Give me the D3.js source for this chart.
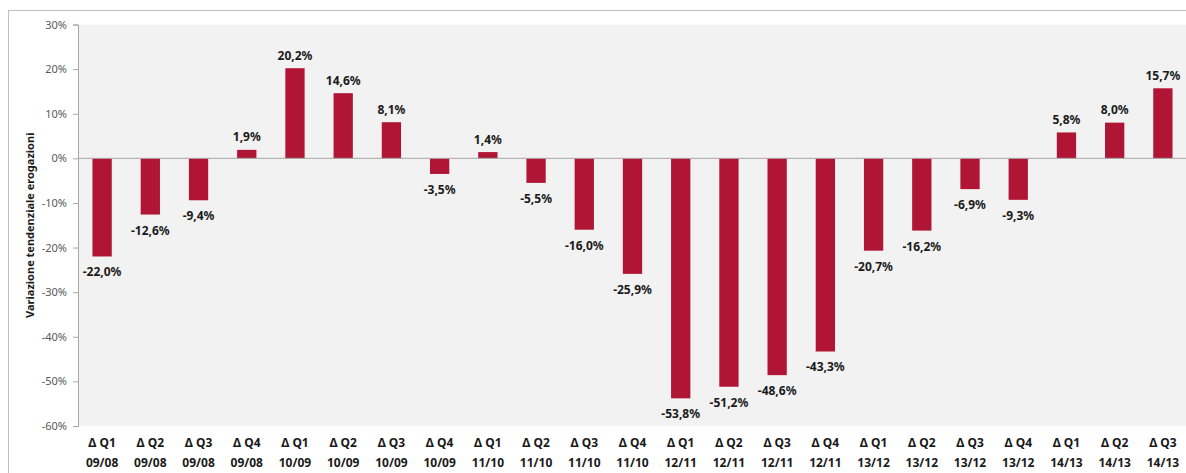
<!DOCTYPE html>
<html>
<head>
<meta charset="utf-8">
<script src="https://cdn.jsdelivr.net/npm/d3@7"></script>
<style>
  html, body { margin: 0; padding: 0; background: #ffffff; }
  svg { display: block; }
</style>
</head>
<body>
<svg id="chart" width="1186" height="473"></svg>
<script>
const quarters = ["Δ Q1","Δ Q2","Δ Q3","Δ Q4","Δ Q1","Δ Q2","Δ Q3","Δ Q4","Δ Q1","Δ Q2","Δ Q3","Δ Q4","Δ Q1","Δ Q2","Δ Q3","Δ Q4","Δ Q1","Δ Q2","Δ Q3","Δ Q4","Δ Q1","Δ Q2","Δ Q3"];
const periods = ["09/08","09/08","09/08","09/08","10/09","10/09","10/09","10/09","11/10","11/10","11/10","11/10","12/11","12/11","12/11","12/11","13/12","13/12","13/12","13/12","14/13","14/13","14/13"];
const values = [-22.0,-12.6,-9.4,1.9,20.2,14.6,8.1,-3.5,1.4,-5.5,-16.0,-25.9,-53.8,-51.2,-48.6,-43.3,-20.7,-16.2,-6.9,-9.3,5.8,8.0,15.7];
const yTicks = [30,20,10,0,-10,-20,-30,-40,-50,-60];
const yTitle = "Variazione tendenziale erogazioni";

const svg = d3.select("#chart");
const font = "'Noto Sans', 'DejaVu Sans', sans-serif";
const pLeft = 78, pRight = 1187, pTop = 24.5, pBottom = 426;

// outer frame
svg.append("rect").attr("x", 8.5).attr("y", 10.5).attr("width", 1190).attr("height", 470)
  .attr("fill", "#ffffff").attr("stroke", "#bfbfbf").attr("stroke-width", 1);

const idx = values.map((d, i) => i);
const x = d3.scaleBand().domain(idx).range([pLeft, pRight]).paddingInner(0.6).paddingOuter(0.3);
const y = d3.scaleLinear().domain([-60, 30]).range([pBottom, pTop]);

// plot background
svg.append("rect").attr("x", pLeft).attr("y", y(30)).attr("width", pRight - pLeft).attr("height", y(-60) - y(30))
  .attr("fill", "#f2f2f2");

// bars
svg.append("g").selectAll("rect").data(idx).join("rect")
  .attr("x", i => x(i))
  .attr("width", x.bandwidth())
  .attr("y", i => y(Math.max(0, values[i])))
  .attr("height", i => Math.abs(y(values[i]) - y(0)))
  .attr("fill", "#b01535");

// zero line
svg.append("line").attr("x1", pLeft).attr("x2", pRight).attr("y1", y(0)).attr("y2", y(0))
  .attr("stroke", "#a6a6a6").attr("stroke-width", 1);

// y axis
const yAxis = d3.axisLeft(y).tickValues(yTicks).tickSize(5).tickPadding(6).tickFormat(d => d + "%");
const gy = svg.append("g").attr("transform", `translate(${pLeft},0)`).call(yAxis);
gy.select(".domain").attr("stroke", "#a6a6a6");
gy.selectAll(".tick line").attr("stroke", "#a6a6a6");
gy.selectAll(".tick text").attr("fill", "#595959").attr("font-size", "11px").attr("font-family", font);

// x labels
const xl = svg.append("g").selectAll("text").data(idx).join("text")
  .attr("x", i => x(i) + x.bandwidth() / 2)
  .attr("text-anchor", "middle")
  .attr("font-family", font).attr("font-size", "12px").attr("font-weight", "bold").attr("fill", "#1a1a1a");
xl.append("tspan").attr("x", i => x(i) + x.bandwidth() / 2).attr("y", 447).text(i => quarters[i]);
xl.append("tspan").attr("x", i => x(i) + x.bandwidth() / 2).attr("y", 467).text(i => periods[i]);

// value labels
svg.append("g").selectAll("text").data(idx).join("text")
  .attr("x", i => x(i) + x.bandwidth() / 2)
  .attr("y", i => values[i] >= 0 ? y(values[i]) - 8.5 : y(values[i]) + 20)
  .attr("text-anchor", "middle")
  .attr("font-family", font).attr("font-size", "12px").attr("font-weight", "bold").attr("fill", "#1a1a1a")
  .text(i => values[i].toFixed(1).replace(".", ",") + "%");

// y title
svg.append("text")
  .attr("transform", `translate(34,${(pTop + pBottom) / 2}) rotate(-90)`)
  .attr("text-anchor", "middle")
  .attr("font-family", font).attr("font-size", "11px").attr("font-weight", "bold").attr("fill", "#1a1a1a")
  .text(yTitle);
</script>
</body>
</html>
